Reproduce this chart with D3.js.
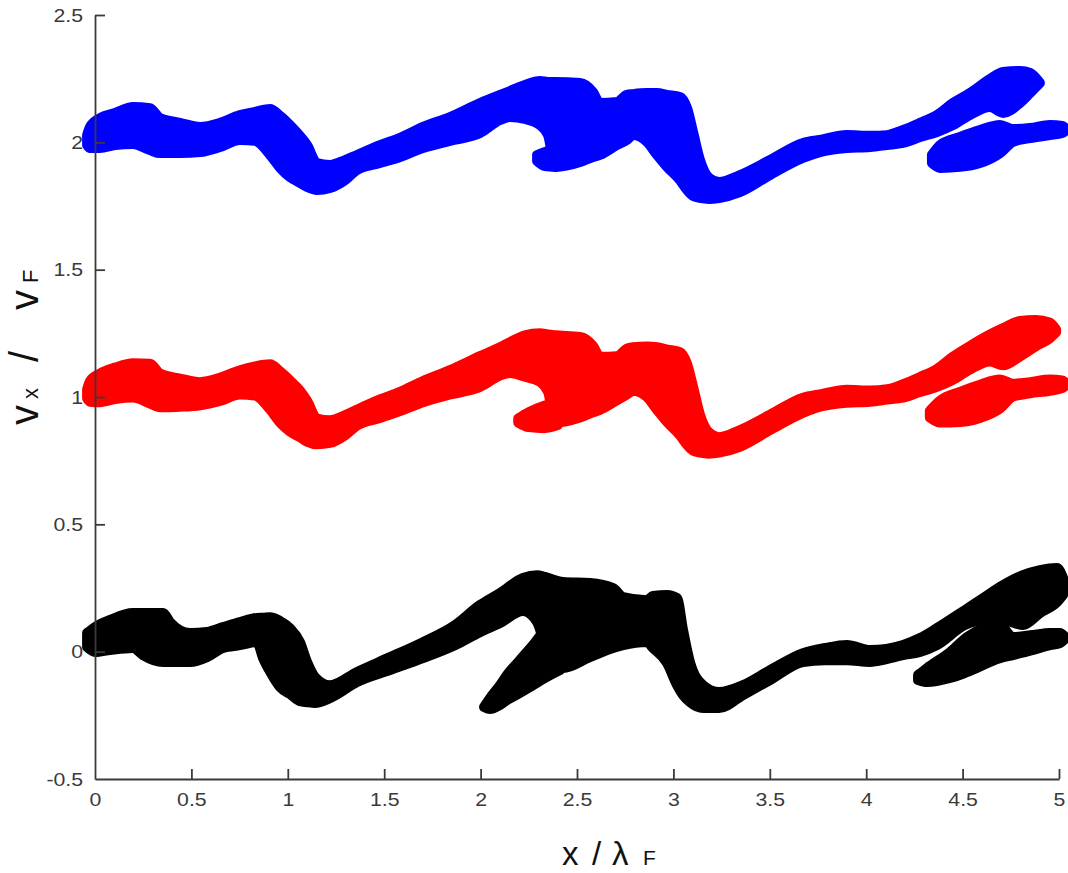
<!DOCTYPE html>
<html>
<head>
<meta charset="utf-8">
<script src="https://cdn.jsdelivr.net/npm/d3@7"></script>
<style>
  html, body { margin: 0; padding: 0; background: #fff; }
  svg { display: block; }
  text { font-family: "Liberation Sans", Arial, Helvetica, sans-serif; }
</style>
</head>
<body>
<svg id="chart" width="1068" height="873"></svg>
<script>
// Axis ticks
const xTicks = [0, 0.5, 1, 1.5, 2, 2.5, 3, 3.5, 4, 4.5, 5];
const yTicks = [-0.5, 0, 0.5, 1, 1.5, 2, 2.5];

// Velocity envelopes along the track: [x/λF, lower vx/vF, upper vx/vF]
const blueMain = [
  [-0.041, 1.970, 2.048], [-0.026, 1.958, 2.080], [0.026, 1.958, 2.115], [0.104, 1.970, 2.135],
  [0.197, 1.974, 2.158], [0.285, 1.950, 2.154], [0.337, 1.938, 2.115], [0.441, 1.938, 2.096],
  [0.545, 1.942, 2.080], [0.648, 1.962, 2.096], [0.752, 1.990, 2.127], [0.830, 1.986, 2.139],
  [0.908, 1.931, 2.151], [0.960, 1.880, 2.123], [1.011, 1.844, 2.088], [1.063, 1.821, 2.045],
  [1.100, 1.805, 2.009], [1.151, 1.793, 1.938], [1.219, 1.801, 1.931], [1.297, 1.832, 1.950],
  [1.359, 1.872, 1.970], [1.478, 1.899, 2.009], [1.582, 1.923, 2.037], [1.701, 1.958, 2.080],
  [1.841, 1.986, 2.119], [1.997, 2.017, 2.174], [2.101, 2.068, 2.206], [2.152, 2.080, 2.221],
  [2.230, 2.072, 2.245], [2.308, 2.048, 2.260], [2.350, 2.009, 2.257], [2.386, 1.884, 2.257],
  [2.516, 1.903, 2.253], [2.583, 1.923, 2.217], [2.619, 1.931, 2.174], [2.708, 1.970, 2.178],
  [2.759, 1.990, 2.206], [2.790, 2.009, 2.209], [2.863, 1.982, 2.213], [2.915, 1.931, 2.213],
  [2.967, 1.884, 2.206], [3.034, 1.832, 2.198], [3.071, 1.793, 2.154], [3.102, 1.770, 2.060],
  [3.138, 1.762, 1.950], [3.185, 1.758, 1.880], [3.237, 1.762, 1.864], [3.345, 1.785, 1.891],
  [3.501, 1.852, 1.950], [3.672, 1.919, 2.017], [3.760, 1.942, 2.029], [3.900, 1.958, 2.048],
  [4.020, 1.962, 2.045], [4.108, 1.970, 2.048], [4.191, 1.978, 2.068], [4.279, 2.001, 2.096],
  [4.367, 2.021, 2.127], [4.450, 2.048, 2.174], [4.538, 2.088, 2.213], [4.642, 2.119, 2.268],
  [4.710, 2.096, 2.296], [4.798, 2.135, 2.300], [4.850, 2.174, 2.292], [4.901, 2.213, 2.253]
];
const blueLobe = [
  [2.293, 1.907, 1.970], [2.334, 1.887, 1.982], [2.392, 1.884, 1.990]
];
const blueTail = [
  [4.341, 1.899, 1.970], [4.383, 1.880, 2.009], [4.487, 1.884, 2.041], [4.590, 1.899, 2.068],
  [4.694, 1.938, 2.088], [4.761, 1.982, 2.072], [4.850, 1.997, 2.076], [4.953, 2.009, 2.088],
  [5.016, 2.017, 2.084], [5.041, 2.033, 2.068]
];

const redMain = [
  [-0.041, 0.975, 1.050], [-0.026, 0.962, 1.082], [0.026, 0.960, 1.112], [0.104, 0.972, 1.135],
  [0.197, 0.978, 1.152], [0.285, 0.955, 1.150], [0.337, 0.940, 1.112], [0.441, 0.942, 1.092],
  [0.545, 0.948, 1.078], [0.648, 0.965, 1.095], [0.752, 0.990, 1.125], [0.830, 0.986, 1.140],
  [0.908, 0.931, 1.148], [0.960, 0.880, 1.120], [1.011, 0.845, 1.085], [1.063, 0.822, 1.045],
  [1.100, 0.805, 1.005], [1.151, 0.795, 0.935], [1.219, 0.800, 0.928], [1.297, 0.830, 0.948],
  [1.359, 0.868, 0.970], [1.478, 0.898, 1.010], [1.582, 0.925, 1.040], [1.701, 0.960, 1.082],
  [1.841, 0.990, 1.125], [1.997, 1.020, 1.180], [2.101, 1.065, 1.215], [2.152, 1.075, 1.235],
  [2.230, 1.060, 1.262], [2.308, 1.040, 1.270], [2.350, 1.000, 1.265], [2.386, 0.880, 1.262],
  [2.516, 0.900, 1.255], [2.583, 0.920, 1.220], [2.619, 0.930, 1.178], [2.708, 0.968, 1.180],
  [2.759, 0.990, 1.210], [2.790, 1.005, 1.215], [2.863, 0.980, 1.218], [2.915, 0.930, 1.215],
  [2.967, 0.882, 1.206], [3.034, 0.830, 1.196], [3.071, 0.792, 1.150], [3.102, 0.770, 1.060],
  [3.138, 0.762, 0.950], [3.185, 0.758, 0.880], [3.237, 0.762, 0.862], [3.345, 0.785, 0.890],
  [3.501, 0.850, 0.950], [3.672, 0.918, 1.017], [3.760, 0.942, 1.030], [3.900, 0.958, 1.048],
  [4.020, 0.962, 1.045], [4.108, 0.970, 1.050], [4.191, 0.978, 1.070], [4.279, 1.000, 1.098],
  [4.367, 1.020, 1.130], [4.450, 1.048, 1.178], [4.538, 1.088, 1.220], [4.642, 1.120, 1.265],
  [4.710, 1.105, 1.290], [4.798, 1.140, 1.318], [4.880, 1.180, 1.322], [4.950, 1.210, 1.312],
  [4.985, 1.235, 1.285]
];
const redLobe = [
  [2.195, 0.880, 0.935], [2.250, 0.862, 0.960], [2.330, 0.858, 0.985], [2.400, 0.870, 1.000]
];
const redTail = [
  [4.330, 0.900, 0.965], [4.383, 0.880, 1.005], [4.487, 0.882, 1.040], [4.590, 0.898, 1.068],
  [4.694, 0.935, 1.088], [4.761, 0.982, 1.072], [4.850, 0.995, 1.078], [4.953, 1.005, 1.088],
  [5.016, 1.015, 1.085], [5.041, 1.032, 1.068]
];

const blackMain = [
  [-0.041, -0.002, 0.093], [0.000, -0.021, 0.116], [0.078, -0.013, 0.144], [0.197, -0.005, 0.171],
  [0.249, -0.033, 0.171], [0.353, -0.060, 0.171], [0.389, -0.060, 0.136], [0.493, -0.060, 0.093],
  [0.581, -0.041, 0.097], [0.664, -0.005, 0.116], [0.752, 0.006, 0.136], [0.840, 0.018, 0.152],
  [0.872, -0.045, 0.153], [0.908, -0.098, 0.155], [0.960, -0.159, 0.140], [1.011, -0.186, 0.112],
  [1.063, -0.214, 0.057], [1.100, -0.218, -0.021], [1.141, -0.221, -0.080], [1.219, -0.202, -0.112],
  [1.359, -0.139, -0.060], [1.530, -0.092, -0.002], [1.701, -0.045, 0.057], [1.867, 0.006, 0.124],
  [1.997, 0.057, 0.203], [2.101, 0.093, 0.250], [2.220, 0.140, 0.309], [2.293, 0.097, 0.320],
  [2.334, 0.006, 0.313], [2.427, -0.084, 0.293], [2.567, -0.041, 0.289], [2.687, -0.005, 0.269],
  [2.739, 0.006, 0.234], [2.863, 0.018, 0.222], [2.894, -0.005, 0.238], [2.967, -0.064, 0.242],
  [3.019, -0.151, 0.230], [3.050, -0.190, 0.105], [3.086, -0.218, -0.021], [3.154, -0.241, -0.112],
  [3.237, -0.241, -0.139], [3.361, -0.190, -0.112], [3.501, -0.131, -0.053], [3.672, -0.060, 0.014],
  [3.786, -0.053, 0.034], [3.900, -0.053, 0.046], [4.020, -0.060, 0.026], [4.191, -0.033, 0.046],
  [4.279, -0.021, 0.073], [4.367, 0.006, 0.112], [4.512, 0.085, 0.183], [4.606, 0.105, 0.230],
  [4.710, 0.105, 0.281], [4.813, 0.085, 0.320], [4.901, 0.132, 0.340], [4.990, 0.175, 0.348],
  [5.021, 0.203, 0.309]
];
const blackArm = [
  [2.018, -0.237, -0.198], [2.049, -0.245, -0.163], [2.101, -0.229, -0.112], [2.137, -0.210, -0.072],
  [2.204, -0.182, -0.013], [2.272, -0.151, 0.046], [2.334, -0.123, 0.105], [2.412, -0.092, 0.144]
];
const blackTail = [
  [4.269, -0.131, -0.072], [4.315, -0.139, -0.045], [4.435, -0.123, 0.018], [4.523, -0.100, 0.077],
  [4.694, -0.045, 0.124], [4.761, -0.033, 0.077], [4.865, -0.013, 0.085], [4.953, 0.006, 0.093],
  [5.005, 0.014, 0.093], [5.036, 0.034, 0.073]
];

const series = [
  { color: "#0000ff", ribbons: [blueMain, blueLobe, blueTail] },
  { color: "#ff0000", ribbons: [redMain, redLobe, redTail] },
  { color: "#000000", ribbons: [blackMain, blackArm, blackTail] }
];

const svg = d3.select("#chart");
const x = d3.scaleLinear().domain([0, 5]).range([95, 1059]);
const y = d3.scaleLinear().domain([-0.5, 2.5]).range([779, 15]);

// Ribbons are drawn as filled areas with a round-joined outline;
// the outline half-width is taken back out of the envelope so edges stay put.
const edge = 10, inset = edge / 2;
const area = d3.area()
  .x(d => x(d[0]))
  .y0(d => { const a = y(d[1]), b = y(d[2]); return Math.max(a - inset, (a + b) / 2); })
  .y1(d => { const a = y(d[1]), b = y(d[2]); return Math.min(b + inset, (a + b) / 2); })
  .curve(d3.curveMonotoneX);

const marks = svg.append("g");
series.forEach(s => {
  marks.append("g").selectAll("path")
    .data(s.ribbons)
    .join("path")
    .attr("d", area)
    .attr("fill", s.color)
    .attr("stroke", s.color)
    .attr("stroke-width", edge)
    .attr("stroke-linejoin", "round");
});

// Axes: ticks pointing inward, no box
const axisColor = "#3a3a3a";
const xAxis = svg.append("g")
  .attr("transform", `translate(0,${y(-0.5)})`)
  .call(d3.axisBottom(x).tickValues(xTicks).tickSize(-10).tickSizeOuter(0)
    .tickPadding(14).tickFormat(d => String(d)));
const yAxis = svg.append("g")
  .attr("transform", `translate(${x(0)},0)`)
  .call(d3.axisLeft(y).tickValues(yTicks).tickSize(-10).tickSizeOuter(0)
    .tickPadding(10.7).tickFormat(d => String(d)));

[xAxis, yAxis].forEach(g => {
  g.select(".domain").attr("stroke", axisColor).attr("stroke-width", 1.8);
  g.selectAll(".tick line").attr("stroke", axisColor).attr("stroke-width", 1.8);
  g.selectAll(".tick text")
    .attr("fill", axisColor)
    .attr("transform", "scale(1.12,1)")
    .style("font-family", '"Liberation Sans", Arial, sans-serif')
    .style("font-size", "19px");
});
xAxis.selectAll(".tick").filter(d => d === 0).select("line").remove();
yAxis.selectAll(".tick").filter(d => d === -0.5).select("line").remove();

// x-axis title
const xt = svg.append("text")
  .attr("y", 865)
  .attr("fill", "#111");
xt.append("tspan").attr("x", 562).style("font-size", "33px").text("x");
xt.append("tspan").attr("x", 592).style("font-size", "33px").text("/");
xt.append("tspan").attr("x", 612).style("font-size", "33px").text("λ");
xt.append("tspan").attr("x", 643).style("font-size", "21px").text("F");

// y-axis title (rotated)
const yt = svg.append("text")
  .attr("transform", "translate(38,0) rotate(-90)")
  .attr("y", 0)
  .attr("fill", "#111");
yt.append("tspan").attr("x", -425).style("font-size", "40px").text("v");
yt.append("tspan").attr("x", -399).style("font-size", "22px").text("x");
yt.append("tspan").attr("x", -362).style("font-size", "40px").text("/");
yt.append("tspan").attr("x", -310).style("font-size", "40px").text("v");
yt.append("tspan").attr("x", -283).style("font-size", "22px").text("F");
</script>
</body>
</html>
